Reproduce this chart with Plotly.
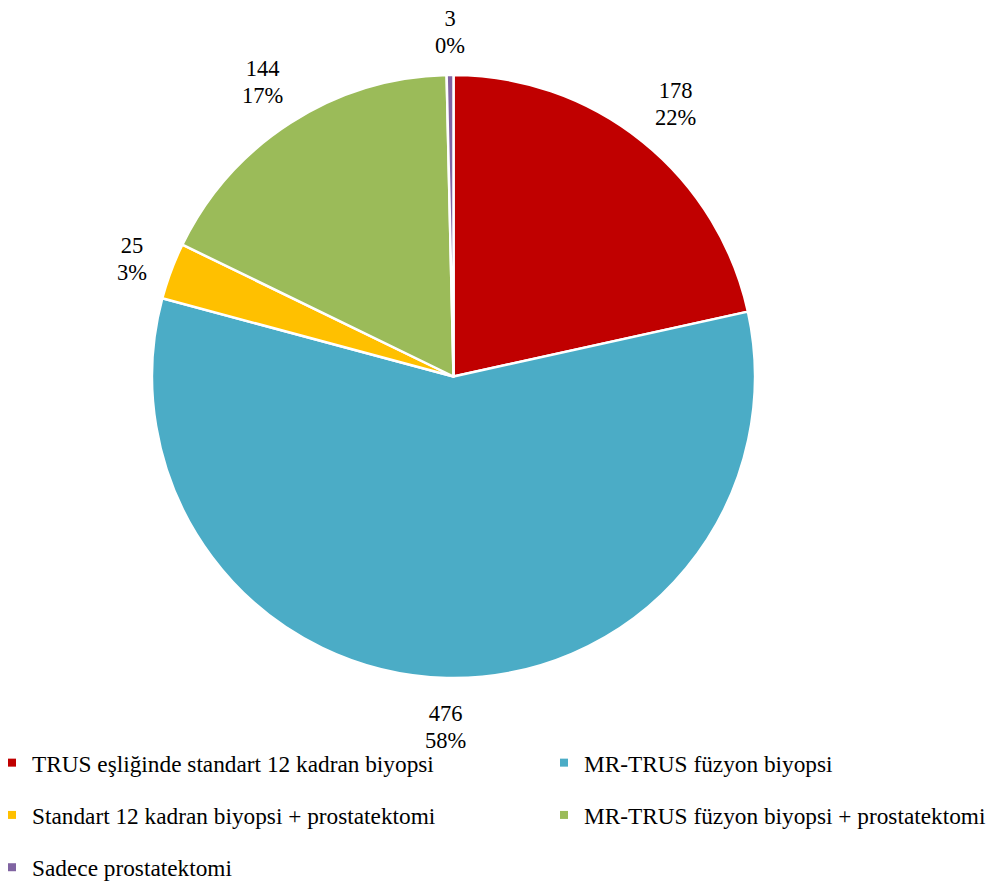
import math
import plotly.graph_objects as go

labels = [
    "TRUS eşliğinde standart 12 kadran biyopsi",
    "MR-TRUS füzyon biyopsi",
    "Standart 12 kadran biyopsi + prostatektomi",
    "MR-TRUS füzyon biyopsi + prostatektomi",
    "Sadece prostatektomi",
]
values = [178, 476, 25, 144, 3]
colors = ["#C00000", "#4BACC6", "#FFC000", "#9BBB59", "#8064A2"]
legend_column = ["legend", "legend2", "legend", "legend2", "legend"]

W, H = 994, 882
OFF = 8  # page body margin offset
FONT = "Liberation Serif, Times New Roman, serif"
LABEL_FS = 22.5
LINE_H = 27
LEGEND_FS = 23.3

# pie box in pixels (layout, figure coordinates)
PIE_L, PIE_R, PIE_T, PIE_B = 152 - OFF, 755 - OFF, 75 - OFF, 678 - OFF
cx, cy = (PIE_L + PIE_R) / 2, (PIE_T + PIE_B) / 2
R = min(PIE_R - PIE_L, PIE_B - PIE_T) / 2

fig = go.Figure()
fig.add_trace(
    go.Pie(
        labels=labels,
        values=values,
        sort=False,
        direction="clockwise",
        rotation=0,
        marker=dict(colors=colors, line=dict(color="white", width=2.5)),
        textinfo="none",
        domain=dict(x=[PIE_L / W, PIE_R / W], y=[1 - PIE_B / H, 1 - PIE_T / H]),
        hoverinfo="label+value+percent",
        showlegend=False,
    )
)

# legend entries (two columns)
for i, (lab, col, lg) in enumerate(zip(labels, colors, legend_column)):
    fig.add_trace(
        go.Scatter(
            x=[None], y=[None], mode="markers", name=lab,
            marker=dict(symbol="square", size=8, color=col),
            legend=lg, legendgroup=f"g{i}", showlegend=True,
            hoverinfo="skip",
        )
    )

# data labels outside each slice (value + percent)
total = sum(values)
char_w = {"%": 0.833}
cum = 0.0
GAP = 18.5
VBIAS = 3
for v in values:
    theta = 2 * math.pi * (cum + v / 2) / total
    cum += v
    pct = round(100 * v / total)
    lines = [str(v), f"{pct}%"]
    w = max(sum(char_w.get(c, 0.5) for c in ln) for ln in lines) * LABEL_FS
    h = 2 * LINE_H
    s, c = math.sin(theta), math.cos(theta)
    ext = abs(s) * w / 2 + abs(c) * h / 2
    d = R + GAP + ext
    px = cx + d * s
    py = cy - d * c + VBIAS
    text = "<br>".join(
        f"<span style='font-size:{LABEL_FS}px'>{ln}</span>" for ln in lines
    )
    fig.add_annotation(
        x=px / W, y=1 - py / H, xref="paper", yref="paper",
        text=text, showarrow=False,
        xanchor="center", yanchor="middle", align="center",
        font=dict(family=FONT, size=LINE_H / 1.3, color="#000000"),
    )

legend_common = dict(
    orientation="v",
    xanchor="left",
    yanchor="top",
    y=1 - (763 - OFF - 22) / H,
    tracegroupgap=19,
    font=dict(family=FONT, size=LEGEND_FS, color="#000000"),
    bgcolor="rgba(0,0,0,0)",
    borderwidth=0,
)

fig.update_layout(
    width=W,
    height=H,
    margin=dict(l=0, r=0, t=0, b=0, autoexpand=False),
    paper_bgcolor="white",
    plot_bgcolor="white",
    font=dict(family=FONT, size=LEGEND_FS, color="#000000"),
    xaxis=dict(visible=False),
    yaxis=dict(visible=False),
    showlegend=True,
    legend=dict(x=-16 / W, **legend_common),
    legend2=dict(x=536 / W, **legend_common),
)

fig.write_html("out.html")
